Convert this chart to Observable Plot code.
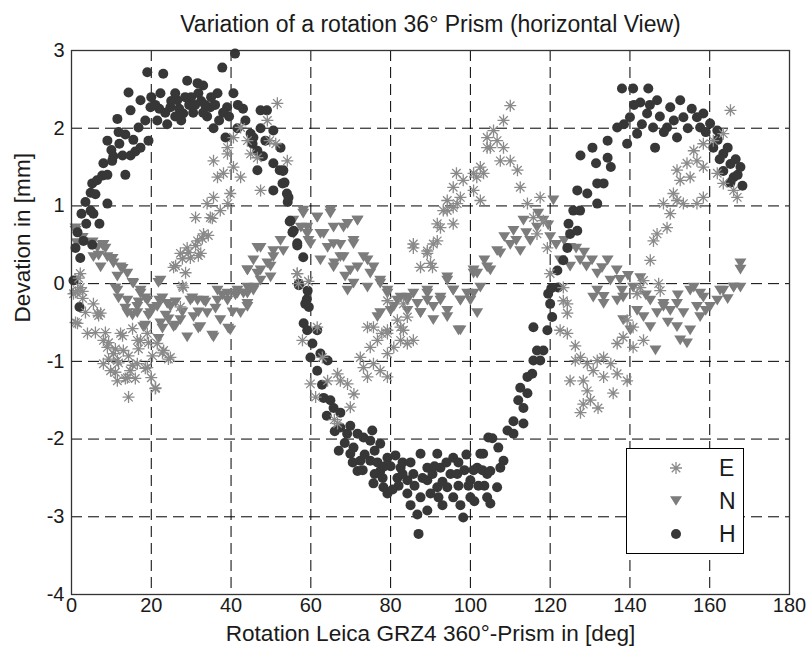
<!DOCTYPE html>
<html><head><meta charset="utf-8">
<script src="https://cdn.jsdelivr.net/npm/d3@7"></script>
<script src="https://cdn.jsdelivr.net/npm/@observablehq/plot@0.6"></script>
<style>
body{margin:0;background:#fff;font-family:"Liberation Sans",Arial,sans-serif}
#wrap{position:relative;width:811px;height:655px}
#legend{position:absolute;left:626px;top:448px;width:118px;height:106px;border:1px solid #000;background:#fff;box-sizing:border-box}
#legend svg{position:absolute;left:0;top:0}
</style></head><body><div id="wrap"></div>
<script>
const titleText = "Variation of a rotation 36° Prism (horizontal View)";
const xLabel = "Rotation Leica GRZ4 360°-Prism in [deg]";
const yLabel = "Devation in [mm]";
const xTicks = [0,20,40,60,80,100,120,140,160,180];
const yTicks = [-4,-3,-2,-1,0,1,2,3];
const seriesNames = ["E","N","H"];

const H = [
[0.5,0.04],[2,-0.3],[1,0.46],[2.2,0.33],[3,0.55],[5.2,0.5],[3.7,0.77],[7,0.77],[4.8,0.94],[5.5,0.9],[9,1.03],[4.8,1.17],[5.2,1.29],[6.4,1.33],[7.7,1.39],[9,1.4],[13.5,1.4],[10.2,1.58],[10.5,1.64],[12.8,1.65],[14.8,1.65],[16,1.7],[17.3,1.75],[19.3,1.84],[9,1.84],[11.8,1.95],[13.5,1.92],[16.8,2.01],[11.5,2.12],[14.8,2.23],[17.3,2.36],[14.3,2.46],[19,2.72],[23,2.7],[19.8,2.27],[22.3,2.45],[21.5,2.1],[24.8,2.27],[26.5,2.36],[29,2.61],[31.6,2.58],[31.8,2.45],[28,2.19],[26,2.15],[34.8,2.27],[36.6,2.45],[33.5,2.3],[35.6,2.0],[37.8,2.78],[41,2.96],[39,2.27],[40.6,2.45],[41.7,2.3],[38.6,1.88],[41.6,2.0],[43.6,2.1],[44.9,1.93],[45.4,1.8],[47.4,2.23],[49,2.23],[47.4,2.0],[46.6,1.71],[48,1.64],[46.6,1.46],[50.6,1.55],[52.4,1.75],[52.2,1.46],[50.6,1.2],[53,1.45],[54,1.16],[53.4,1.3],[54.2,1.05],[54.9,0.81],[55.7,0.68],[56.6,0.52],[58.1,0.34],[57,0],[59.2,-0.09],[59,-0.2],[59.5,-0.3],
[21,2.3],[23.5,2.2],[25,2.35],[27,2.25],[29.5,2.3],[30.5,2.2],[32.5,2.35],[34,2.15],[36,2.3],[38,2.2],[24,2.05],[27.5,2.1],[30,2.4],[33,2.55],[35,2.4],
[1.5,0.66],[2.5,0.9],[3.5,1.05],[6,1.15],[8,1.55],[10,1.72],[12,1.8],[15.5,1.85],[18.5,2.1],[20,2.4],[22,2.25],[26,2.45],[28.5,2.4],[31,2.3],[33,2.2],[37,2.1],[39.5,2.15],[43,2.25],
[45.6,1.88],[48.6,1.84],[50.6,1.97],[53.1,1.46],[52.9,1.29],[54.4,1.11],[54.7,0.8],[55.4,0.66],[56.6,0.49],[57,-0.02],[58.6,-0.26],
[58.2,-0.51],[59.1,-0.6],[61.6,-0.6],[60.4,-0.77],[59.9,-0.95],[62.4,-0.9],[64.2,-0.99],[61.6,-1.12],[63.2,-1.47],[64.9,-1.5],[65.7,-1.6],[67.4,-1.66],[67.4,-1.85],[69.9,-1.83],[69.1,-1.93],[67,-2.15],[71.7,-1.93],[70.7,-2.11],[73.2,-1.98],[75.4,-1.89],[74.9,-2.02],[77.4,-2.06],[69.9,-2.19],[72.4,-2.28],[71.7,-2.41],[74.9,-2.28],[76.7,-2.3],[79.2,-2.24],[81.2,-2.21],[77.4,-2.41],[75.7,-2.57],[78.2,-2.62],[79.2,-2.7],[81.7,-2.5],[82.5,-2.37],[84.2,-2.53],[84.2,-2.7],[85.7,-2.45],[87.5,-2.19],[89.2,-2.37],[86.7,-2.97],[89.2,-2.92],[87,-3.22],[91.7,-2.19],[92.5,-2.37],[89.2,-2.53],[91.7,-2.62],[90,-2.7],[94.2,-2.62],[95.7,-2.24],[96.7,-2.45],[95.7,-2.75],[98.2,-3.01],[100,-2.75],[100,-2.53],[101.7,-2.37],[102.5,-2.19],[104.2,-2.45],[104.5,-1.98],[104.2,-2.75],
[73,-2.4],[76,-2.45],[78,-2.5],[80,-2.35],[82,-2.6],[83,-2.45],[86,-2.6],[88,-2.5],[90.5,-2.45],[93,-2.55],[94,-2.3],[97,-2.6],[98.5,-2.4],[99,-2.2],[102,-2.6],[103,-2.4],[97.5,-2.85],[93,-2.85],[85,-2.85],
[62.8,-1.3],[64,-1.7],[66,-1.9],[68.5,-2.05],[70.5,-2.3],[73.5,-2.2],[76,-2.15],[78.5,-2.35],[80.5,-2.65],[83,-2.3],[85,-2.3],[87.5,-2.75],[91,-2.35],[92,-2.75],[95,-2.45],[97,-2.3],[99.5,-2.6],[101,-2.8],[103.5,-2.6],
[100.8,-2.4],[103.2,-2.19],[105,-2.41],[105,-2.83],[106.7,-2.62],[107.5,-2.37],[108.3,-2.28],[105.5,-1.99],[107,-2.11],[109.3,-1.89],[110.8,-1.93],[110.8,-1.77],[113.3,-1.8],[113.3,-1.6],[112,-1.5],[114.3,-1.41],[112.5,-1.34],[114.3,-1.2],[115.5,-1.16],[115.8,-0.99],[117.5,-0.99],[116.7,-0.86],[118.3,-0.86],[115.8,-0.56],[119.3,-0.6],[120.5,-0.43],[120,-0.26],[119.5,-0.13],[122,-0.05],
[120.3,-0.06],[121.8,0.17],[123.3,0.3],[124.3,0.46],[125,0.64],[124.6,0.77],[126.8,0.68],[125.8,0.94],[127.5,0.94],[131.8,1.03],[126.8,1.2],[129.3,1.16],[131.8,1.29],[133.4,1.29],[127.6,1.65],[130.6,1.75],[131.5,1.55],[134.4,1.62],[135.2,1.5],[134.4,1.84],[136.8,2.01],[139.3,1.8],[138.5,2.05],[140,2.14],[138,2.51],[140.8,2.51],[144.6,2.51],[142.6,2.33],[144.3,2.19],[146.8,2.36],[141.8,1.93],[145.8,2.01],[146.3,1.75],[149.3,2.01],[150.1,2.27],[152.6,2.36],[153.4,2.14],[151.8,1.88],[156.8,2.14],[158.4,2.19],[157.6,2.01],[160.1,2.06],[161.9,1.97],[160.9,1.75],[163.4,1.67],[165.2,1.54],[167.7,1.5],[163.4,1.45],[166,1.37],[168.2,1.26],[165.2,1.3],
[141,2.3],[143,2.05],[145,2.3],[147.5,2.15],[148.5,1.95],[151,2.1],[154.5,2.0],[155.5,2.25],[159,1.95],[162,1.85],[164.5,1.75],[166.5,1.6],[162.5,1.6],[167,1.4]
];

const E = [
[2.2,0.13],[1.5,-0.09],[2.8,-0.1],[5.5,-0.26],[7.3,-0.38],
[0.5,-0.13],[2.2,-0.05],[1.5,-0.51],[4,-0.64],[6.5,-0.38],[8,-0.73],[9,-0.82],[10.5,-0.9],[8,-1.03],[9.8,-1.12],[11.5,-0.99],[13,-0.86],[12.3,-0.64],[14,-1.21],[14.7,-1.12],[16.5,-1.03],[11.5,-1.25],[14.3,-1.46],[17.3,-0.73],[19,-1.08],[19,-0.64],[21.5,-0.77],[23.1,-0.86],[21.1,-1.34],[20,-1.21],[24.8,-0.95],[27.3,-0.3],[28,-0.05],[16.5,-0.73],
[1.8,0.07],[1,-0.11],[2.8,-0.19],[3.5,-0.37],[1,-0.5],[6.8,-0.41],[6,-0.63],[8.5,-0.63],[9.3,-0.76],[11,-0.84],[12.8,-0.67],[9.3,-0.97],[11.8,-1.02],[14.3,-0.93],[15.3,-1.05],[11,-1.14],[13.5,-1.22],[16,-1.22],[18.5,-1.09],[21,-1.35],[16.8,-0.84],[19.3,-0.76],[22.8,-0.89],[24.3,-0.97],[20.3,-0.93],[15.3,-0.58],
[26.1,0.23],[27.8,0.32],[28.6,0.14],[29.3,0.4],[31.1,0.49],[31.8,0.36],[32.8,0.58],[34.3,0.62],[35.3,0.84],[27.8,-0.03],
[25.6,0.21],[27.3,0.39],[29,0.46],[29.8,0.33],[31.6,0.55],[33.1,0.64],[32.4,0.39],[31.1,0.85],[34.8,0.85],[34,1.03],[35.6,1.11],[37.3,0.94],[39.8,1.16],[39.2,1.03],[36.6,1.37],[38.1,1.42],[35.6,1.58],[39.1,1.67],[40.6,1.5],[42.4,1.37],[39.1,1.75],[40.6,1.88],[42.4,2.01],[44.1,1.84],[44.9,1.67],[46.6,1.62],[47.4,1.2],[49.1,2.1],[51.6,2.32],[49.7,1.84],[51.2,1.8],[54.1,1.58],[56.6,0.13],[59.4,0.03],[56.9,0],
[57.9,-0.73],[61.6,-0.56],[59.9,-1.29],[61.2,-1.46],[62.9,-0.95],[64.2,-1.25],[66.7,-1.16],[67.4,-1.25],[69.2,-1.29],[70.8,-1.42],[69.9,-1.59],[66.7,-1.8],[65.9,-1.75],[72.4,-0.95],[73.2,-1.08],[74.2,-1.2],[75.7,-1.03],[77.4,-1.12],[79.2,-1.2],[74.9,-0.82],[76.7,-0.73],[79.2,-0.9],[80.8,-0.82],[82.5,-0.73],[84.2,-0.77],[85.7,-0.73],[74.2,-0.56],[77.8,-0.64],[79.2,-0.64],[83.2,-0.6],[81.7,-0.47],[84.2,-0.43],[79.2,-0.22],[83.2,-0.26],
[75.7,-0.56],[79.2,-0.6],[82.5,-0.56],
[85.7,0.46],[89.2,0.39],[90.5,0.21],[91.7,0.55],[92.5,0.72],[93.2,0.94],[94.2,1.07],[95.7,0.98],[97.5,1.11],[95.7,1.24],[98.2,1.33],[100.8,1.42],[96.5,1.42],[100.8,1.2],[102.5,1.5],[104.2,1.75],[104.2,1.88],
[85.7,0.51],[89.2,0.42],[90.7,0.51],[91.7,0.77],[95.7,0.77],[94.2,0.94],[96.7,1.03],[90,0.26],[87.5,0.21],[56.6,0.13],
[101.6,1.37],[102.5,1.07],[105,1.75],[106.7,1.84],[105.8,1.97],[108.3,2.1],[110,2.29],[108.3,1.75],[110,1.58],[111.8,1.46],[107.5,1.58],[103.3,1.42],[112.5,1.24],[114.3,1.03],[117.5,1.11],[115.8,0.85],[118.3,0.81],[116.7,0.64],[119.3,0.46],[120,0.13],[123.3,-0.05],[124.3,-0.26],
[123.3,-0.22],[124.3,-0.38],[122.5,-0.6],[124.3,-0.64],[126.3,-0.8],[127.6,-0.95],[126.3,-0.99],[129.3,-1.03],[131.8,-0.99],[133.4,-0.95],[135.2,-1.03],[125,-1.25],[128.3,-1.25],[130.8,-1.12],[133.4,-1.2],[136.8,-1.16],[139.3,-1.25],[129.3,-1.38],[130.1,-1.5],[128.3,-1.55],[127.6,-1.66],[132,-1.6],[135.8,-1.41],[136.8,-0.77],[138.3,-0.69],[140.8,-0.82],[139.3,-0.47],[140.8,-0.56],[143.4,-0.73],[141.8,-0.13],[142.6,-0.05],[147.6,-0.09],[147.2,0],
[143.4,0.04],[145.1,0.3],[145.9,0.55],[146.8,0.64],[149.3,0.72],[150.1,0.9],[148.4,1.03],[151.8,1.07],[153.4,1.03],[150.9,1.16],[156.8,1.03],[158.4,1.11],[152.6,1.33],[155.1,1.37],[151.8,1.46],[154.3,1.55],[156.8,1.58],[158.4,1.5],[156,1.71],[158.4,1.8],[160.9,1.84],[163.4,1.93],[165.2,2.23],[166,1.2],[166.9,1.11],[163.4,1.29],[161.9,1.42]
];

const N = [
[1,0.68],[2.8,0.59],[1.3,0.52],[4.8,0.5],[6.5,0.46],[8,0.5],[5.5,0.34],[9,0.34],[7.3,0.21],[10.5,0.26],[12.3,0.21],[14,0.13],[11.5,0.09],[15.5,0],[17.3,-0.09],[19,-0.22],[22.3,0.04],[22,-0.22],[24,-0.26],[16.5,-0.3],[14,-0.38],[36.6,-0.09],[33.1,-0.22],[31.6,-0.22],[39.1,-0.22],[41.6,-0.13],[44.1,-0.05],[46.6,0.13],[45.6,0.3],[49.1,0.26],[47.4,0.46],[50.6,0.42],[52.4,0.55],[55.7,0.64],[58.1,0.9],[57.5,0.72],[59.4,0.55],
[11.5,-0.09],[14,-0.22],[17.3,-0.13],[16.5,-0.38],[19.8,-0.38],[18,-0.56],[22.3,-0.51],[21.5,-0.3],[24.8,-0.3],[24.3,-0.46],[25.6,-0.56],[27.3,-0.47],[29,-0.69],[29.8,-0.22],[30.6,-0.43],[32.3,-0.56],[34,-0.38],[35.6,-0.69],[36.6,-0.22],[37.3,-0.47],[39.1,-0.13],[39.8,-0.6],[41.6,-0.09],[44.1,-0.13],[45.9,-0.05],
[1,0.71],[5.3,0.53],[7.8,0.49],[8.5,0.45],[6.8,0.36],[10.3,0.32],[12.8,0.19],[15.3,0.01],[11.8,-0.19],[16.8,-0.24],[18.5,-0.19],[21.8,0.01],[22.8,-0.19],[26.1,-0.24],[30.3,-0.19],[33.6,-0.24],[37.8,-0.15],[41.1,-0.15],[15.3,-0.41],[19.3,-0.41],[23.6,-0.41],[27.8,-0.37],[31.8,-0.37],[36.1,-0.32],[40.4,-0.37],[18.5,-0.54],[22.8,-0.58],[26.1,-0.54],[31.8,-0.58],[35.3,-0.67],[39.3,-0.58],[21.8,-0.71],[20.3,-0.32],[13.5,-0.32],[11,-0.06],
[44.1,0.17],[49.9,0.22],[47.4,0.04],[55.6,0.81],[58.1,0.94],[61.6,0.85],[64.9,0.9],[59.1,0.64],[62.4,0.64],[65.7,0.72],[69.2,0.77],[71.7,0.81],[64.2,0.46],[67.4,0.5],[70.7,0.55],[68.2,0.34],[65.9,0.26],[71.7,0.21],[74.2,0.3],[74.9,0.13],[68.6,0.09],[77.4,0],[79.2,-0.13],[81.7,-0.22],[84.2,-0.18],[86.7,-0.26],[89.2,-0.13],[92.5,-0.22],[94.2,0.04],[95.7,-0.09],[97.5,-0.22],[100.8,0.13],[102.5,-0.05],[104.2,0.21],
[64.9,0.94],[71.7,0.81],[61.6,0.85],[59.1,0.72],[63.2,0.64],[68.2,0.72],[70.7,0.51],[59.9,0.51],[65.7,0.51],[67.4,0.34],[62.4,0.3],[73.2,0.34],[75.7,0.21],[69.9,0.17],[65.7,0.21],[77.4,0.04],[74.2,-0.05],[69.2,-0.09],[79.2,-0.09],[82.5,-0.18],[85.7,-0.13],[89.2,-0.22],[92.5,-0.18],[94.2,0.08],[95.7,-0.09],[99.2,-0.13],[100.8,0.17],[76.7,-0.43],[80,-0.35],[84.2,-0.35],[87.5,-0.38],[90.7,-0.3],[97.5,-0.6],[94.2,-0.43],
[46.6,0.46],[50.6,0.34],[53.1,0.42],[47.4,0.17],[44.1,0.17],[45.6,-0.09],[43.1,-0.13],[44.1,-0.3],[49.9,0.08],
[70.7,0],[77.4,-0.38],[80.8,-0.3],[84.2,-0.22],[87.5,-0.38],[90.7,-0.47],[89.2,-0.09],[94.2,-0.35],[97,-0.6],[97.5,-0.22],[100.8,-0.13],[101.7,-0.38],[44.1,-0.26],[42.4,-0.38],
[101.7,0.13],[105,0.17],[106.7,0.42],[110,0.5],[110.8,0.68],[113.3,0.81],[116.7,0.72],[118.3,0.81],[120.8,1.07],[120,0.6],[115,0.55],[112.5,0.42],[107.5,0.39],[125,0.46],[125,0.22],[127.5,0.3],[129.1,0.22],[131.8,0.13],[134.4,0.3],[135.1,0.04],[136.7,0.17],[131.8,-0.09],[133.4,-0.17],[138.3,-0.18],[140.8,-0.05],[142.6,0.07],[145.1,-0.22],[148.4,-0.3],[151.8,-0.26],[155.1,-0.09],[158.4,-0.18],[162.6,-0.09],[166,-0.05],[167.7,0.26],[167.7,0.18],
[103.5,0.3],[108.5,0.6],[111.5,0.55],[114,0.65],[117,0.9],[119.5,0.75],[121.5,0.5],[122.5,0.3],[123.5,0.55],[126.5,0.45],[128.5,0.4],[130.5,0.3],[133,0.2],[137.5,0.05],[139.5,0.1],
[100,-0.22],[130.8,-0.18],[133.4,-0.26],[136.8,-0.22],[138.3,-0.47],[140.1,-0.6],[141.8,-0.35],[143.4,-0.43],[145.1,-0.56],[146.4,-0.86],[146.8,-0.38],[148.4,-0.26],[150.1,-0.35],[151.8,-0.56],[152.6,-0.73],[154.3,-0.77],[155.1,-0.6],[153.4,-0.38],[156.8,-0.3],[157.6,-0.43],[160.1,-0.3],[161.9,-0.22],[163.4,-0.09],[166,-0.05],[167.7,-0.05],[157.6,-0.13],[156,-0.05],[138,-0.09],
[144,-0.15],[149.5,-0.5],[152,-0.15],[159,-0.35],[164.5,-0.2]
];

const colE = "#8a8a8a", colN = "#7c7c7c", colH = "#373737";

const asterisk = {draw(ctx, size){
  const r = Math.sqrt(size/Math.PI), d = r*Math.SQRT1_2;
  ctx.moveTo(-r,0); ctx.lineTo(r,0); ctx.moveTo(0,-r); ctx.lineTo(0,r);
  ctx.moveTo(-d,-d); ctx.lineTo(d,d); ctx.moveTo(-d,d); ctx.lineTo(d,-d);
}};
const triDown = {draw(ctx, size){
  const s = Math.sqrt(size), w = s*1.23, h = s*1.0;
  ctx.moveTo(-w/2,-h/2); ctx.lineTo(w/2,-h/2); ctx.lineTo(0,h/2); ctx.closePath();
}};

const FONT = "'Liberation Sans', Arial, sans-serif";
const fx = d => d[0], fy = d => d[1];
const chart = Plot.plot({
  width: 811, height: 655,
  marginLeft: 71, marginRight: 22, marginTop: 50, marginBottom: 61,
  style: {fontFamily: FONT, fontSize: "20px", color: "#1a1a1a", background: "#fff"},
  x: {domain: [0, 180]},
  y: {domain: [-4, 3]},
  marks: [
    Plot.gridX(xTicks, {stroke: "#000", strokeOpacity: 1, strokeDasharray: "11,6"}),
    Plot.gridY(yTicks, {stroke: "#000", strokeOpacity: 1, strokeDasharray: "11,6"}),
    Plot.dot(N, {x: fx, y: fy, symbol: triDown, r: 5.5, fill: colN, stroke: "none"}),
    Plot.dot(H, {x: fx, y: fy, symbol: "circle", r: 5, fill: colH, stroke: "none"}),
    Plot.dot(E, {x: fx, y: fy, symbol: asterisk, r: 6, fill: "none", stroke: colE, strokeWidth: 1.3}),
    Plot.frame({stroke: "#333", strokeWidth: 1.3}),
    Plot.axisX(xTicks, {tickSize: 0, tickPadding: 3, label: null, fontSize: 20, tickFormat: d => String(d)}),
    Plot.axisY(yTicks, {tickSize: 0, tickPadding: 7, label: null, fontSize: 20, tickFormat: d => String(d)}),
    Plot.text([titleText], {frameAnchor: "top", dy: -26, text: d => d, fontSize: 23, lineAnchor: "middle"}),
    Plot.text([xLabel], {frameAnchor: "bottom", dy: 39, text: d => d, fontSize: 22.6, lineAnchor: "middle"}),
    Plot.text([yLabel], {frameAnchor: "left", dx: -49, rotate: -90, text: d => d, fontSize: 22.6, lineAnchor: "middle"})
  ]
});
const wrap = document.getElementById("wrap");
wrap.appendChild(chart);

// legend
const lg = document.createElement("div");
lg.id = "legend";
const ns = "http://www.w3.org/2000/svg";
const svg = document.createElementNS(ns, "svg");
svg.setAttribute("width", 118); svg.setAttribute("height", 106);
const sym = [
  {name: seriesNames[0], path: d3.symbol(asterisk, Math.PI*6*6)(), fill: "none", stroke: colE},
  {name: seriesNames[1], path: d3.symbol(triDown, Math.PI*5.5*5.5)(), fill: colN, stroke: "none"},
  {name: seriesNames[2], path: d3.symbol(d3.symbolCircle, Math.PI*5*5)(), fill: colH, stroke: "none"}
];
sym.forEach((s, i) => {
  const cy = 19 + i*33;
  const p = document.createElementNS(ns, "path");
  p.setAttribute("d", s.path); p.setAttribute("transform", `translate(49,${cy})`);
  p.setAttribute("fill", s.fill); p.setAttribute("stroke", s.stroke); p.setAttribute("stroke-width", 1.3);
  svg.appendChild(p);
  const t = document.createElementNS(ns, "text");
  t.setAttribute("x", 92); t.setAttribute("y", cy); t.setAttribute("dy", "0.35em");
  t.setAttribute("font-size", 23); t.setAttribute("font-family", FONT); t.setAttribute("fill", "#1a1a1a");
  t.textContent = s.name;
  svg.appendChild(t);
});
lg.appendChild(svg);
wrap.appendChild(lg);
</script>
</body></html>
